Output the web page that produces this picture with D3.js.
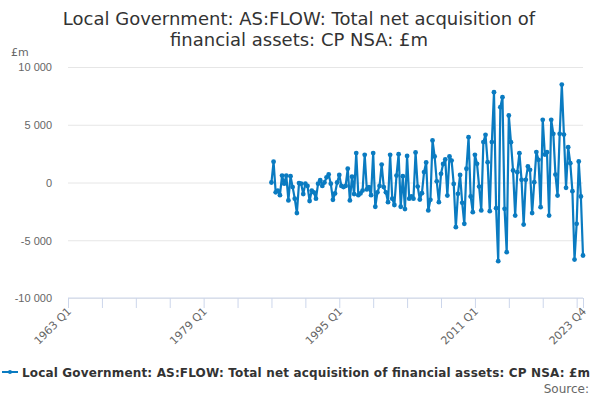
<!DOCTYPE html>
<html lang="en">
<head>
<meta charset="UTF-8">
<script src="https://d3js.org/d3.v7.min.js"></script>
<style>
  html, body { margin: 0; padding: 0; background: #fff; }
  svg { display: block; font-family: 'DejaVu Sans', Verdana, sans-serif; }
  .title { font-size: 18px; fill: #333; text-anchor: middle; }
  .tick text { font-size: 11px; fill: #666; }
  .legend text { font-size: 12px; font-weight: bold; fill: #333; }
</style>
</head>
<body>
<div id="chart"></div>
<script>
// quarterly series, 1987 Q1 .. 2023 Q4 (£m)
var startYear = 1987;
var values = [
  0, 1800, -850, -700, -1100, 600, -100, 600, -1550, 550,
  -400, -1400, -2650, -50, -100, -1000, -100, -300, -1600, -700,
  -850, -1400, -100, 200, -300, 0, 450, 700, -100, -1500,
  -950, 0, 650, -300, -400, -300, 1200, -1550, 500, -1000,
  2550, -1100, -950, -700, 2400, -600, -400, -1100, 2550, -2100,
  -850, -300, 1550, -400, -850, -1700, 2400, -1400, -1950, 600,
  2450, -2100, 550, -2300, 2300, -1400, -1200, -1400, 2600, -350,
  -1470, -920, 900, 1730, -2420, -1500, 3640, 2250, 100, -1700,
  750, 1600, 2000, -1130, 2250, 1900, -120, -3870, -980, 660,
  -1760, -3580, 1190, 3920, -1210, -2570, 2400, 1620, -350, -2420,
  3500, 4130, 1760, -2480, 3500, 7820, -2220, -6810, 6520, 7390,
  -2280, -6030, 5800, 3490, 1040, -2860, 890, 2540, 230, -3640,
  230, 1390, 1100, -2650, 30, 2630, 1960, -2140, 5430, 2420,
  2620, -2860, 5430, 4210, 690, -1130, 4210, 8480, 4150, -460,
  3060, 1670, -750, -6670, -3580, 1820, -1210, -6320
];
var xLabels = ['1963 Q1', '1979 Q1', '1995 Q1', '2011 Q1', '2023 Q4'];
var yTicks = [-10000, -5000, 0, 5000, 10000];

var seriesName = 'Local Government: AS:FLOW: Total net acquisition of financial assets: CP NSA: £m';

// quarter index counted from 1963 Q1
function qIndex(label) {
  var p = label.split(' Q');
  return (+p[0] - 1963) * 4 + (+p[1] - 1);
}
var data = values.map(function(v, i) {
  return { q: (startYear - 1963) * 4 + i, v: v };
});

var width = 600, height = 400;
var margin = { top: 67, right: 17, bottom: 102, left: 68 };

var svg = d3.select('#chart').append('svg')
  .attr('width', width)
  .attr('height', height);

var x = d3.scaleLinear()
  .domain([0, qIndex('2023 Q4')])
  .range([margin.left, width - margin.right]);

var y = d3.scaleLinear()
  .domain([-10000, 10000])
  .range([height - margin.bottom, margin.top]);

var fmt = function(d) { return d3.format(',')(d).replace(/,/g, ' ').replace('−', '-'); };

// title
svg.append('text').attr('class', 'title').attr('x', 299).attr('y', 25)
  .text('Local Government: AS:FLOW: Total net acquisition of');
svg.append('text').attr('class', 'title').attr('x', 299).attr('y', 46)
  .text('financial assets: CP NSA: £m');

// y grid + labels
var yAxis = svg.append('g')
  .attr('transform', 'translate(' + margin.left + ',0)')
  .call(d3.axisLeft(y).tickValues(yTicks)
    .tickSize(-(width - margin.left - margin.right))
    .tickPadding(16)
    .tickFormat(fmt));
yAxis.select('.domain').remove();
yAxis.selectAll('.tick line').attr('stroke', '#e6e6e6');
yAxis.selectAll('.tick text').attr('dy', '0.35em');

svg.append('text')
  .attr('x', 11).attr('y', 56)
  .style('font-size', '11px').style('fill', '#666')
  .text('£m');

// x axis
var minorTicks = d3.range(0, qIndex('2023 Q4'), 16).concat([qIndex('2023 Q4')]);
var xAxis = svg.append('g')
  .attr('transform', 'translate(0,' + (height - margin.bottom) + ')')
  .call(d3.axisBottom(x).tickValues(minorTicks).tickSize(10).tickFormat(''));
xAxis.selectAll('line, path').attr('stroke', '#ccd6eb');
xAxis.select('.domain').attr('d', 'M' + margin.left + ',0H' + (width - margin.right));

var xl = svg.append('g').attr('class', 'tick');
xl.selectAll('text').data(xLabels).enter().append('text')
  .attr('text-anchor', 'end')
  .attr('transform', function(d) {
    return 'translate(' + (x(qIndex(d)) + 4) + ',' + (height - margin.bottom + 14) + ') rotate(-45)';
  })
  .text(function(d) { return d; });

// series
var line = d3.line()
  .x(function(d) { return x(d.q); })
  .y(function(d) { return y(d.v); });

svg.append('path').datum(data)
  .attr('fill', 'none')
  .attr('stroke', '#0a7bc1')
  .attr('stroke-width', 2.2)
  .attr('stroke-linejoin', 'round')
  .attr('d', line);

svg.append('g').selectAll('circle').data(data).enter().append('circle')
  .attr('cx', function(d) { return x(d.q); })
  .attr('cy', function(d) { return y(d.v); })
  .attr('r', 2.4)
  .attr('fill', '#0a7bc1');

// legend
var lg = svg.append('g').attr('class', 'legend').attr('transform', 'translate(0,372)');
lg.append('line').attr('x1', 2).attr('x2', 18).attr('y1', 0).attr('y2', 0)
  .attr('stroke', '#0a7bc1').attr('stroke-width', 2);
lg.append('circle').attr('cx', 10).attr('cy', 0).attr('r', 2).attr('fill', '#0a7bc1');
lg.append('text').attr('x', 22).attr('y', 4.5).attr('textLength', 568).text(seriesName);

svg.append('text')
  .attr('x', 589).attr('y', 393)
  .attr('text-anchor', 'end')
  .style('font-size', '12px').style('fill', '#666')
  .text('Source:');
</script>
</body>
</html>
